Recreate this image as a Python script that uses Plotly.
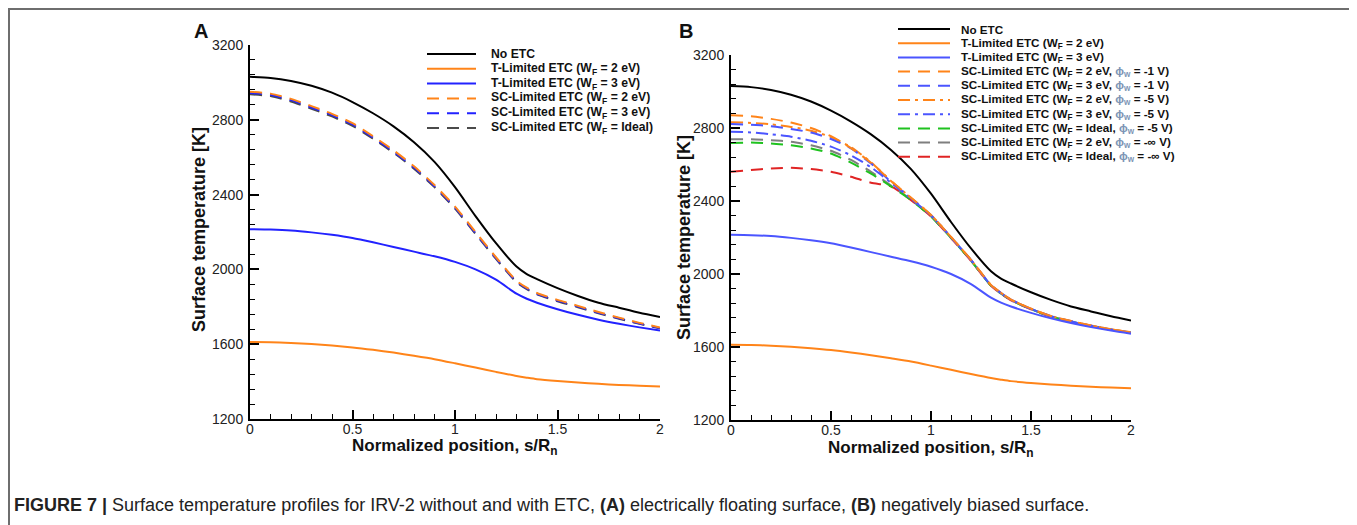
import plotly.graph_objects as go

W, H = 1357, 525
OFF = 8  # page offset of the figure inside the browser window (body margin)

# ---------------- data ----------------
s_pos = [0, 0.1, 0.2, 0.3, 0.4, 0.5, 0.6, 0.7, 0.8, 0.9, 1.0, 1.1, 1.2, 1.3, 1.35, 1.4, 1.5, 1.6, 1.7, 1.8, 1.9, 2.0]

no_etc = [3030, 3024, 3008, 2982, 2945, 2895, 2835, 2765, 2680, 2575, 2440, 2285, 2140, 2015, 1975, 1948, 1900, 1858, 1822, 1795, 1768, 1745]
t_lim_2ev = [1612, 1611, 1607, 1601, 1593, 1583, 1570, 1555, 1538, 1520, 1498, 1475, 1452, 1430, 1421, 1413, 1403, 1395, 1388, 1382, 1378, 1374]
t_lim_3ev = [2215, 2213, 2208, 2198, 2185, 2168, 2145, 2120, 2095, 2070, 2040, 2000, 1945, 1870, 1843, 1822, 1787, 1757, 1731, 1709, 1690, 1673]

# Panel A: electrically floating surface
sc_a_2ev = [2950, 2940, 2912, 2873, 2832, 2782, 2712, 2637, 2551, 2451, 2336, 2200, 2065, 1939, 1902, 1874, 1837, 1805, 1772, 1742, 1714, 1689]
sc_a_3ev = [2943, 2934, 2905, 2866, 2825, 2775, 2705, 2630, 2545, 2445, 2330, 2195, 2060, 1935, 1898, 1870, 1833, 1801, 1768, 1739, 1711, 1687]
sc_a_ideal = [2936, 2927, 2898, 2859, 2818, 2768, 2699, 2624, 2539, 2440, 2325, 2190, 2056, 1932, 1895, 1867, 1830, 1798, 1765, 1736, 1709, 1685]

# Panel B: negatively biased surface
sc_b_2ev_m1 = [2870, 2864, 2850, 2830, 2800, 2755, 2690, 2610, 2510, 2418, 2323, 2203, 2078, 1940, 1897, 1860, 1810, 1770, 1742, 1718, 1697, 1681]
sc_b_3ev_m1 = [2822, 2818, 2810, 2795, 2775, 2740, 2688, 2605, 2505, 2415, 2322, 2202, 2077, 1939, 1896, 1859, 1809, 1769, 1741, 1717, 1696, 1680]
sc_b_2ev_m5 = [2832, 2828, 2820, 2806, 2785, 2750, 2695, 2612, 2510, 2418, 2323, 2203, 2078, 1940, 1897, 1860, 1810, 1770, 1742, 1718, 1697, 1681]
sc_b_3ev_m5 = [2780, 2776, 2766, 2752, 2730, 2698, 2650, 2585, 2500, 2412, 2320, 2201, 2076, 1938, 1895, 1858, 1808, 1768, 1740, 1716, 1695, 1679]
sc_b_ideal_m5 = [2718, 2720, 2715, 2705, 2688, 2660, 2610, 2550, 2480, 2405, 2315, 2198, 2073, 1936, 1893, 1857, 1807, 1767, 1739, 1715, 1694, 1678]
sc_b_2ev_minf = [2738, 2738, 2733, 2725, 2705, 2675, 2625, 2560, 2485, 2408, 2318, 2199, 2074, 1937, 1894, 1858, 1808, 1768, 1740, 1716, 1695, 1679]
sc_b_ideal_minf = [2560, 2570, 2578, 2582, 2575, 2560, 2533, 2500, 2480, 2405, 2315, 2197, 2072, 1935, 1892, 1856, 1806, 1766, 1738, 1715, 1694, 1678]

x_tickvals = [0, 0.5, 1, 1.5, 2]
x_ticktext = ["0", "0.5", "1", "1.5", "2"]
y_tickvals = [1200, 1600, 2000, 2400, 2800, 3200]
y_ticktext = ["1200", "1600", "2000", "2400", "2800", "3200"]

# ---------------- styles ----------------
BLACK = "#000000"
ORANGE = "#ff8419"
BLUE_A = "#2222ff"
BLUE_B = "#4b55ff"
GRAY_A = "#4a4a4a"
GRAY_B = "#7f7f7f"
GREEN = "#1fc21f"
RED = "#e02424"
DASH = "12px,8px"
DASHDOT = "12px,5px,3px,5px"
FONT = "Liberation Sans, Arial, Helvetica, sans-serif"

def px(x):
    return (x - OFF) / W

def py(y):
    return 1 - (y - OFF) / H

seriesA = [
    ("No ETC", no_etc, BLACK, "solid"),
    ("T-Limited ETC (W<sub>F</sub> = 2 eV)", t_lim_2ev, ORANGE, "solid"),
    ("T-Limited ETC (W<sub>F</sub> = 3 eV)", t_lim_3ev, BLUE_A, "solid"),
    ("SC-Limited ETC (W<sub>F</sub> = 2 eV)", sc_a_2ev, ORANGE, DASH),
    ("SC-Limited ETC (W<sub>F</sub> = 3 eV)", sc_a_3ev, BLUE_A, DASH),
    ("SC-Limited ETC (W<sub>F</sub> = Ideal)", sc_a_ideal, GRAY_A, DASH),
]

PHI = "<span style='color:#7d95b5'>ϕ<sub>w</sub></span>"
seriesB = [
    ("No ETC", no_etc, BLACK, "solid"),
    ("T-Limited ETC (W<sub>F</sub> = 2 eV)", t_lim_2ev, ORANGE, "solid"),
    ("T-Limited ETC (W<sub>F</sub> = 3 eV)", t_lim_3ev, BLUE_B, "solid"),
    (f"SC-Limited ETC (W<sub>F</sub> = 2 eV, {PHI} = -1 V)", sc_b_2ev_m1, ORANGE, DASH),
    (f"SC-Limited ETC (W<sub>F</sub> = 3 eV, {PHI} = -1 V)", sc_b_3ev_m1, BLUE_B, DASH),
    (f"SC-Limited ETC (W<sub>F</sub> = 2 eV, {PHI} = -5 V)", sc_b_2ev_m5, ORANGE, DASHDOT),
    (f"SC-Limited ETC (W<sub>F</sub> = 3 eV, {PHI} = -5 V)", sc_b_3ev_m5, BLUE_B, DASHDOT),
    (f"SC-Limited ETC (W<sub>F</sub> = Ideal, {PHI} = -5 V)", sc_b_ideal_m5, GREEN, DASH),
    (f"SC-Limited ETC (W<sub>F</sub> = 2 eV, {PHI} = -∞ V)", sc_b_2ev_minf, GRAY_B, DASH),
    (f"SC-Limited ETC (W<sub>F</sub> = Ideal, {PHI} = -∞ V)", sc_b_ideal_minf, RED, DASH),
]

fig = go.Figure()

def add_series(series, xa, ya):
    for name, vals, col, dash in reversed(series):
        fig.add_trace(go.Scatter(
            x=s_pos, y=vals, mode="lines", name=name, showlegend=False,
            xaxis=xa, yaxis=ya,
            line=dict(color=col, width=2, dash=dash, shape="spline", smoothing=0.7),
        ))

add_series(seriesA, "x", "y")
add_series(seriesB, "x2", "y2")

# ---------------- axes ----------------
def xaxis_def(domain, anchor):
    return dict(
        domain=domain, anchor=anchor, range=[0, 2], automargin=False,
        showgrid=False, zeroline=False,
        showline=True, linecolor="black", linewidth=2,
        ticks="inside", ticklen=9, tickwidth=1.5, tickcolor="black",
        tickvals=x_tickvals, ticktext=x_ticktext,
        tickfont=dict(family=FONT, size=14, color="#222"),
        ticklabelstandoff=-4,
        minor=dict(dtick=0.1, tick0=0, ticks="inside", ticklen=5, tickwidth=1, tickcolor="black"),
    )

def yaxis_def(domain, anchor):
    return dict(
        domain=domain, anchor=anchor, range=[1200, 3200], automargin=False,
        showgrid=False, zeroline=False,
        showline=True, linecolor="black", linewidth=2,
        ticks="inside", ticklen=9, tickwidth=1.5, tickcolor="black",
        tickvals=y_tickvals, ticktext=y_ticktext,
        tickfont=dict(family=FONT, size=14, color="#222"),
        ticklabelstandoff=2,
        minor=dict(dtick=80, tick0=1200, ticks="inside", ticklen=5, tickwidth=1, tickcolor="black"),
    )

fig.update_layout(
    template="none",
    width=W, height=H,
    margin=dict(l=0, r=0, t=0, b=0, pad=0, autoexpand=False),
    paper_bgcolor="white", plot_bgcolor="white",
    showlegend=False,
    xaxis=xaxis_def([px(250), px(660)], "y"),
    yaxis=yaxis_def([py(419), py(45)], "x"),
    xaxis2=xaxis_def([px(731), px(1131)], "y2"),
    yaxis2=yaxis_def([py(420), py(55)], "x2"),
)

annotations = []
shapes = []

def title_ann(text, x, y, angle=0, size=17):
    annotations.append(dict(
        text=f"<b>{text}</b>", x=px(x), y=py(y), xref="paper", yref="paper",
        xanchor="center", yanchor="middle", showarrow=False, textangle=angle,
        font=dict(family=FONT, size=size, color="#111"),
    ))

XT = "Normalized position, s/R<sub>n</sub>"
YT = "Surface temperature [K]"
title_ann(XT, 455, 447)
title_ann(XT, 931, 449)
title_ann(YT, 199, 230, angle=-90, size=18)
title_ann(YT, 684, 238, angle=-90, size=18)

for letter, x, y in [("A", 201, 31), ("B", 686, 31)]:
    annotations.append(dict(
        text=f"<b>{letter}</b>", x=px(x), y=py(y), xref="paper", yref="paper",
        xanchor="center", yanchor="middle", showarrow=False,
        font=dict(family=FONT, size=20, color="#111"),
    ))

def legend(series, x0, x1, xt, y0, dy, fsize):
    for i, (name, _, col, dash) in enumerate(series):
        yy = y0 + i * dy
        shapes.append(dict(type="line", xref="paper", yref="paper",
                           x0=px(x0), x1=px(x1), y0=py(yy), y1=py(yy),
                           line=dict(color=col, width=2, dash=dash)))
        annotations.append(dict(
            text=f"<b>{name}</b>", x=px(xt), y=py(yy), xref="paper", yref="paper",
            xanchor="left", yanchor="middle", showarrow=False,
            font=dict(family=FONT, size=fsize, color="#111"),
        ))

legend(seriesA, 427, 476, 489, 54, 14.8, 12.2)
legend(seriesB, 898, 950, 959, 29, 14.2, 11.7)

annotations.append(dict(
    text="<b>FIGURE 7 |</b> Surface temperature profiles for IRV-2 without and with ETC, "
         "<b>(A)</b> electrically floating surface, <b>(B)</b> negatively biased surface.",
    x=px(12), y=py(505), xref="paper", yref="paper",
    xanchor="left", yanchor="middle", showarrow=False,
    font=dict(family=FONT, size=18, color="#222"),
))

# figure frame (open at the bottom)
shapes.append(dict(type="rect", xref="paper", yref="paper",
                   x0=px(9), x1=px(1355.5), y0=-0.05, y1=py(9),
                   line=dict(color="#6e6e6e", width=2), fillcolor="rgba(0,0,0,0)", layer="below"))

fig.update_layout(annotations=annotations, shapes=shapes)

fig.write_html("out.html")
